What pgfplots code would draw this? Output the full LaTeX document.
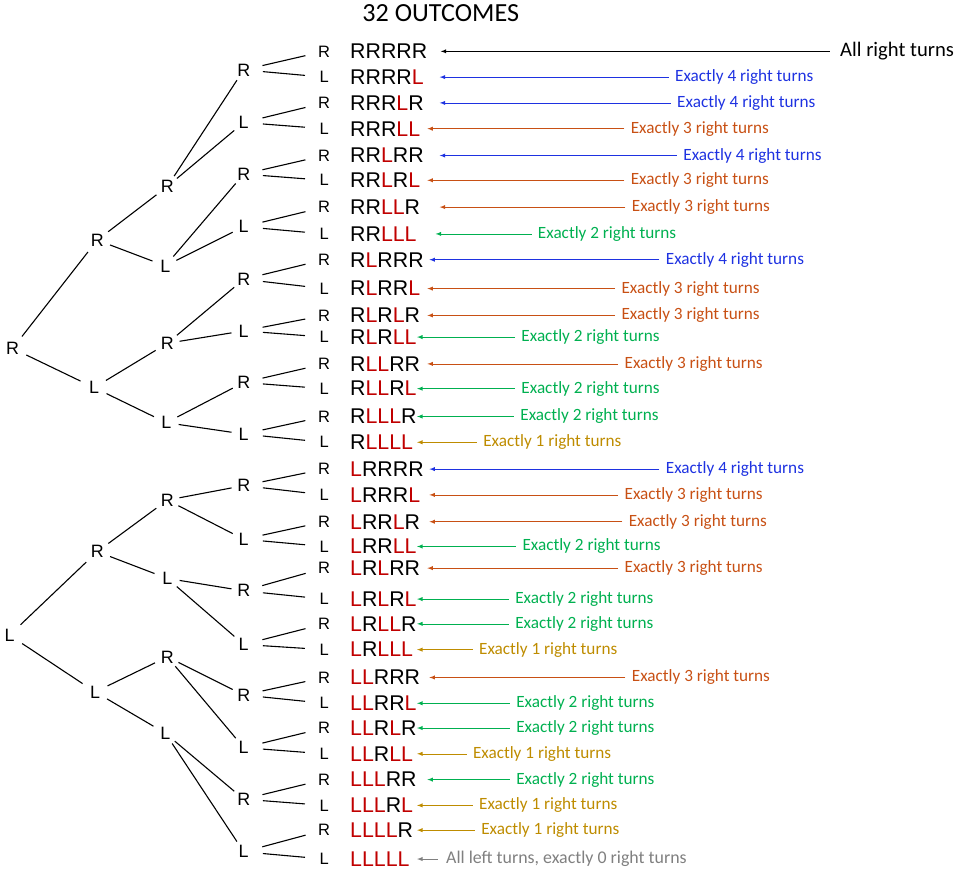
\documentclass[border=0pt]{standalone}
\usepackage{pgfplots}
\pgfplotsset{compat=1.18}
\usepackage{fontspec}
\setmainfont{Liberation Sans}
\newfontfamily\calf{Carlito}
\definecolor{cb}{RGB}{30,50,225}
\definecolor{co}{RGB}{200,80,20}
\definecolor{cg}{RGB}{0,176,80}
\definecolor{cy}{RGB}{190,140,0}
\definecolor{cgr}{RGB}{128,128,128}
\definecolor{cr}{RGB}{192,0,0}
\def\col#1{\ifx#1L\textcolor{cr}{L}\else R\fi}
\def\oc#1#2#3#4#5{\col#1\col#2\col#3\col#4\col#5}
\def\fo{\fontsize{15.5}{16}\selectfont}
\def\fs{\fontsize{12}{12}\selectfont}
\def\ft{\fontsize{13}{13}\selectfont}
\newcommand\E[5]{\addplot[black,thick,shorten <=#5pt,shorten >=#5pt] coordinates {(#1,#2)(#3,#4)};}
\newcommand\T[3]{\node[font=\ft] at (axis cs:#1,#2) {#3};}
\newcommand\A[5]{\node[anchor=west,inner sep=0pt,text=#2,font=\calf\fontsize{12.5}{13}\selectfont] at (axis cs:#3,#1) {#4};
\addplot[#2,-latex,thin] coordinates {(#3-6,#1)(#5,#1)};}
\begin{document}
\begin{tikzpicture}
\begin{axis}[hide axis, scale only axis, width=715.5pt, height=643.5pt,
 xmin=0,xmax=954,ymin=0,ymax=858,y dir=reverse,clip=false]
\node[font=\calf\fontsize{19}{19}\selectfont] at (axis cs:433,20) {32 OUTCOMES};
% level 1
\T{18}{345}{R}\T{15}{623}{L}
% level 2
\T{100}{240}{R}\T{97}{383}{L}\T{100}{542}{R}\T{98}{678}{L}
\E{18}{345}{100}{240}{11}\E{18}{345}{97}{383}{11}
\E{15}{623}{100}{542}{11}\E{15}{623}{98}{678}{11}
% level 3
\T{168}{188}{R}\T{166}{265}{L}\T{168}{340}{R}\T{167}{417}{L}
\T{168}{492}{R}\T{168}{568}{L}\T{168}{644}{R}\T{166}{718}{L}
\E{100}{240}{168}{188}{10}\E{100}{240}{166}{265}{10}
\E{97}{383}{168}{340}{10}\E{97}{383}{167}{417}{10}
\E{100}{542}{168}{492}{10}\E{100}{542}{168}{568}{10}
\E{98}{678}{168}{644}{10}\E{98}{678}{166}{718}{10}
% level 4
\foreach \y/\l in {75/R,126/L,176/R,227/L,278/R,328/L,378/R,428/L,478/R,530/L,580/R,632/L,681/R,732/L,782/R,833/L}{
 \edef\tmp{\noexpand\node[font=\noexpand\ft] at (axis cs:242,\y) {\l};}\tmp}
\E{168}{188}{242}{75}{9}\E{168}{188}{242}{126}{9}
\E{166}{265}{242}{176}{9}\E{166}{265}{242}{227}{9}
\E{168}{340}{242}{278}{9}\E{168}{340}{242}{328}{9}
\E{167}{417}{242}{378}{9}\E{167}{417}{242}{428}{9}
\E{168}{492}{242}{478}{9}\E{168}{492}{242}{530}{9}
\E{168}{568}{242}{580}{9}\E{168}{568}{242}{632}{9}
\E{168}{644}{242}{681}{9}\E{168}{644}{242}{732}{9}
\E{166}{718}{242}{782}{9}\E{166}{718}{242}{833}{9}
% level 5
\E{242}{75}{320}{57}{14}\E{242}{75}{320}{82}{14}
\E{242}{126}{320}{107}{14}\E{242}{126}{320}{132}{14}
\E{242}{176}{320}{158}{14}\E{242}{176}{320}{182}{14}
\E{242}{227}{320}{208}{14}\E{242}{227}{320}{234}{14}
\E{242}{278}{320}{259}{14}\E{242}{278}{320}{287}{14}
\E{242}{328}{320}{313}{14}\E{242}{328}{320}{334}{14}
\E{242}{378}{320}{360}{14}\E{242}{378}{320}{384}{14}
\E{242}{428}{320}{411}{14}\E{242}{428}{320}{436}{14}
\E{242}{478}{320}{462}{14}\E{242}{478}{320}{487}{14}
\E{242}{530}{320}{513}{14}\E{242}{530}{320}{537}{14}
\E{242}{580}{320}{558}{14}\E{242}{580}{320}{588}{14}
\E{242}{632}{320}{612}{14}\E{242}{632}{320}{637}{14}
\E{242}{681}{320}{664}{14}\E{242}{681}{320}{689}{14}
\E{242}{732}{320}{713}{14}\E{242}{732}{320}{738}{14}
\E{242}{782}{320}{763}{14}\E{242}{782}{320}{788}{14}
\E{242}{833}{320}{812}{14}\E{242}{833}{320}{840}{14}
\foreach \y/\a/\b/\c/\d/\e [count=\k] in {57/R/R/R/R/R,82/R/R/R/R/L,107/R/R/R/L/R,132/R/R/R/L/L,158/R/R/L/R/R,182/R/R/L/R/L,208/R/R/L/L/R,234/R/R/L/L/L,259/R/L/R/R/R,287/R/L/R/R/L,313/R/L/R/L/R,334/R/L/R/L/L,360/R/L/L/R/R,384/R/L/L/R/L,411/R/L/L/L/R,436/R/L/L/L/L,462/L/R/R/R/R,487/L/R/R/R/L,513/L/R/R/L/R,537/L/R/R/L/L,558/L/R/L/R/R,588/L/R/L/R/L,612/L/R/L/L/R,637/L/R/L/L/L,664/L/L/R/R/R,689/L/L/R/R/L,713/L/L/R/L/R,738/L/L/R/L/L,763/L/L/L/R/R,788/L/L/L/R/L,812/L/L/L/L/R,840/L/L/L/L/L}{
 \edef\tmp{\noexpand\node[font=\noexpand\fs] at (axis cs:320,\y) {\e};
 \noexpand\node[anchor=west,inner sep=0pt,font=\noexpand\fo] at (axis cs:345,\y) {\noexpand\oc\a\b\c\d\e};}\tmp
}
% annotations
\node[anchor=west,inner sep=0pt,font=\calf\fontsize{15}{15}\selectfont] at (axis cs:820,57) {All right turns};
\addplot[black,-latex,thin] coordinates {(810,57)(433,57)};
\A{82}{cb}{660}{Exactly 4 right turns}{432}
\A{107}{cb}{662}{Exactly 4 right turns}{432}
\A{132}{co}{617}{Exactly 3 right turns}{420}
\A{158}{cb}{668}{Exactly 4 right turns}{432}
\A{182}{co}{617}{Exactly 3 right turns}{420}
\A{208}{co}{618}{Exactly 3 right turns}{432}
\A{234}{cg}{527}{Exactly 2 right turns}{428}
\A{259}{cb}{651}{Exactly 4 right turns}{422}
\A{287}{co}{608}{Exactly 3 right turns}{420}
\A{313}{co}{608}{Exactly 3 right turns}{420}
\A{334}{cg}{511}{Exactly 2 right turns}{410}
\A{360}{co}{611}{Exactly 3 right turns}{420}
\A{384}{cg}{511}{Exactly 2 right turns}{410}
\A{411}{cg}{510}{Exactly 2 right turns}{410}
\A{436}{cy}{474}{Exactly 1 right turns}{410}
\A{462}{cb}{651}{Exactly 4 right turns}{422}
\A{487}{co}{611}{Exactly 3 right turns}{422}
\A{513}{co}{615}{Exactly 3 right turns}{422}
\A{537}{cg}{512}{Exactly 2 right turns}{410}
\A{558}{co}{611}{Exactly 3 right turns}{420}
\A{588}{cg}{505}{Exactly 2 right turns}{410}
\A{612}{cg}{505}{Exactly 2 right turns}{410}
\A{637}{cy}{470}{Exactly 1 right turns}{410}
\A{664}{co}{618}{Exactly 3 right turns}{422}
\A{689}{cg}{506}{Exactly 2 right turns}{410}
\A{713}{cg}{506}{Exactly 2 right turns}{410}
\A{738}{cy}{464}{Exactly 1 right turns}{410}
\A{763}{cg}{506}{Exactly 2 right turns}{420}
\A{788}{cy}{470}{Exactly 1 right turns}{410}
\A{812}{cy}{472}{Exactly 1 right turns}{410}
\node[anchor=west,inner sep=0pt,text=cgr,font=\calf\fontsize{13}{13}\selectfont] at (axis cs:438,840) {All left turns, exactly 0 right turns};
\addplot[cgr,-latex,thin] coordinates {(430,840)(410,840)};
\end{axis}
\end{tikzpicture}
\end{document}
